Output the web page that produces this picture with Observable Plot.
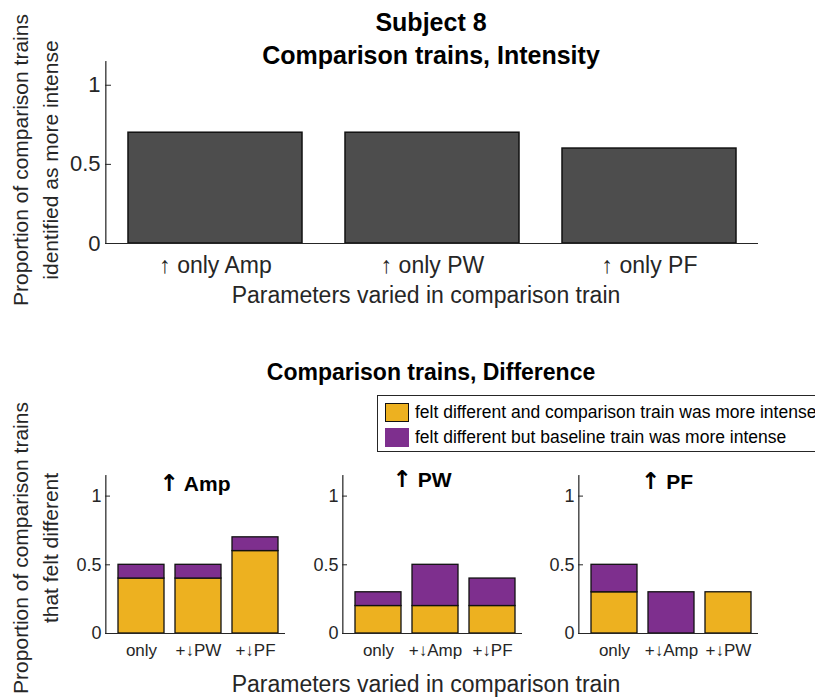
<!DOCTYPE html>
<html><head><meta charset="utf-8">
<script src="https://cdn.jsdelivr.net/npm/d3@7"></script>
<script src="https://cdn.jsdelivr.net/npm/@observablehq/plot@0.6"></script>
<style>
body{margin:0;background:#fff;}
#root{position:relative;width:815px;height:698px;overflow:hidden;background:#fff;font-family:"Liberation Sans","DejaVu Sans",Arial,Helvetica,sans-serif;color:#000;}
.t{position:absolute;white-space:nowrap;line-height:1;transform:translate(-50%,-50%);}
.abs{position:absolute;}
.arrow{font-family:"DejaVu Sans",sans-serif;font-size:1.1em;}
.ylab{position:absolute;white-space:nowrap;text-align:center;font-size:21px;line-height:30px;color:#262626;transform:translate(-50%,-50%) rotate(-90deg);}
</style></head><body><div id="root"></div>
<script>
// ---------- data ----------
const mainTitle = ["Subject 8", "Comparison trains, Intensity"];
const topCategories = ["↑ only Amp", "↑ only PW", "↑ only PF"];
const topValues = [0.7, 0.7, 0.6];
const topYLabel = ["Proportion of comparison trains", "identified as more intense"];
const xLabel = "Parameters varied in comparison train";
const yTicks = [0, 0.5, 1];

const diffTitle = "Comparison trains, Difference";
const diffYLabel = ["Proportion of comparison trains", "that felt different"];
const seriesLabels = ["felt different and comparison train was more intense",
                      "felt different but baseline train was more intense"];
const seriesColors = ["#EDB120", "#7E2F8E"];

const panelTitles = ["↑ Amp", "↑ PW", "↑ PF"];
const ampCategories = ["only", "+↓PW", "+↓PF"];
const ampMoreIntense = [0.4, 0.4, 0.6];
const ampBaselineMore = [0.1, 0.1, 0.1];
const pwCategories = ["only", "+↓Amp", "+↓PF"];
const pwMoreIntense = [0.2, 0.2, 0.2];
const pwBaselineMore = [0.1, 0.3, 0.2];
const pfCategories = ["only", "+↓Amp", "+↓PW"];
const pfMoreIntense = [0.3, 0.0, 0.3];
const pfBaselineMore = [0.2, 0.3, 0.0];

// ---------- layout ----------
const FONT = "'Liberation Sans', 'DejaVu Sans', Arial, Helvetica, sans-serif";
const AX = "#262626";
const root = document.getElementById("root");

function addText(txt, cx, cy, size, bold, color) {
  const d = document.createElement("div");
  d.className = "t";
  if (txt.startsWith("↑ ")) {
    const a = document.createElement("span");
    a.className = "arrow";
    a.textContent = "↑";
    d.appendChild(a);
    d.appendChild(document.createTextNode(" " + txt.slice(2)));
  } else {
    d.textContent = txt;
  }
  d.style.left = cx + "px"; d.style.top = cy + "px";
  d.style.fontSize = size + "px";
  d.style.fontWeight = bold ? "bold" : "normal";
  d.style.color = color || "#000";
  root.appendChild(d);
}
function addYLabel(lines, cx, cy) {
  const d = document.createElement("div");
  d.className = "ylab";
  d.innerHTML = lines.map(l => `<div>${l}</div>`).join("");
  d.style.left = cx + "px"; d.style.top = cy + "px";
  root.appendChild(d);
}
function place(svg, left, top) {
  svg.style.position = "absolute";
  svg.style.left = left + "px"; svg.style.top = top + "px";
  root.appendChild(svg);
}

// ---------- top chart ----------
const topData = topCategories.map((c, i) => ({cat: c, value: topValues[i]}));
const topW = 815, topML = 105, topMR = 57, topFW = topW - topML - topMR;
const topChart = Plot.plot({
  width: topW, height: 320, marginLeft: topML, marginRight: topMR, marginTop: 61, marginBottom: 77,
  style: {fontFamily: FONT, color: AX, background: "transparent", overflow: "visible"},
  x: {domain: topCategories, paddingInner: 0.2, paddingOuter: 0.1, label: null},
  y: {domain: [0, 1.15], label: null},
  marks: [
    Plot.barY(topData, {x: "cat", y: "value", fill: "#4d4d4d", stroke: "#111", strokeWidth: 1.5}),
    Plot.frame({stroke: AX, strokeWidth: 0.7, insetRight: topFW - 0.6}),
    Plot.tickY(yTicks, {y: d => d, stroke: AX, insetRight: topFW - 6}),
    Plot.ruleY([0], {stroke: AX, strokeWidth: 1.2}),
    Plot.axisX({tickSize: 0, tickPadding: 13, fontSize: 23, label: null}),
    Plot.axisY(yTicks, {tickSize: 0, tickPadding: 5, fontSize: 22, tickFormat: d => String(d), label: null})
  ]
});
place(topChart, 0, 0);

addText(mainTitle[0], 431, 22, 25, true);
addText(mainTitle[1], 431, 55, 25, true);
addText(xLabel, 426, 295, 23, false, AX);
addYLabel(topYLabel, 36, 160);

// ---------- bottom panels ----------
function panel(cats, more, base) {
  const data = [];
  cats.forEach((c, i) => {
    if (more[i] > 0) data.push({cat: c, series: seriesLabels[0], value: more[i]});
    if (base[i] > 0) data.push({cat: c, series: seriesLabels[1], value: base[i]});
  });
  const W = 237, ML = 50, MR = 7, FW = W - ML - MR;
  return Plot.plot({
    width: W, height: 203, marginLeft: ML, marginRight: MR, marginTop: 15, marginBottom: 30,
    style: {fontFamily: FONT, color: AX, background: "transparent", overflow: "visible"},
    x: {domain: cats, paddingInner: 0.19, paddingOuter: 0.155, align: 0.66, label: null},
    y: {domain: [0, 1.15], label: null},
    color: {domain: seriesLabels, range: seriesColors},
    marks: [
      Plot.barY(data, {x: "cat", y: "value", fill: "series", stroke: "#111", strokeWidth: 1.3}),
      Plot.frame({stroke: AX, strokeWidth: 0.7, insetRight: FW - 0.6}),
      Plot.tickY(yTicks, {y: d => d, stroke: AX, insetRight: FW - 5}),
      Plot.ruleY([0], {stroke: AX, strokeWidth: 1.2}),
      Plot.axisX({tickSize: 0, tickPadding: 10, fontSize: 17, label: null}),
      Plot.axisY(yTicks, {tickSize: 0, tickPadding: 4, fontSize: 18, tickFormat: d => String(d), label: null})
    ]
  });
}
place(panel(ampCategories, ampMoreIntense, ampBaselineMore), 55, 460);
place(panel(pwCategories, pwMoreIntense, pwBaselineMore), 292, 460);
place(panel(pfCategories, pfMoreIntense, pfBaselineMore), 528, 460);

addText(panelTitles[0], 195, 484, 21, true);
addText(panelTitles[1], 422, 480, 21, true);
addText(panelTitles[2], 667, 482, 21, true);

addText(diffTitle, 431, 372, 23, true);
addText(xLabel, 426, 684, 23, false, AX);
addYLabel(diffYLabel, 36, 548);

// legend
const lg = document.createElement("div");
lg.className = "abs";
Object.assign(lg.style, {left: "377px", top: "395px", width: "480px", height: "57px",
  border: "1px solid #262626", boxSizing: "border-box", background: "#fff"});
root.appendChild(lg);
seriesLabels.forEach((lab, i) => {
  const sw = document.createElement("div");
  sw.className = "abs";
  Object.assign(sw.style, {left: "7px", top: (7 + i * 25) + "px", width: "24px", height: "19px",
    background: seriesColors[i], boxSizing: "border-box",
    border: i === 0 ? "1.5px solid #111" : "none"});
  lg.appendChild(sw);
  const tx = document.createElement("div");
  tx.className = "abs";
  Object.assign(tx.style, {left: "37px", top: (16.5 + i * 25) + "px", transform: "translateY(-50%)",
    fontSize: "17.5px", lineHeight: "1", whiteSpace: "nowrap", color: "#000"});
  tx.textContent = lab;
  lg.appendChild(tx);
});
</script></body></html>
